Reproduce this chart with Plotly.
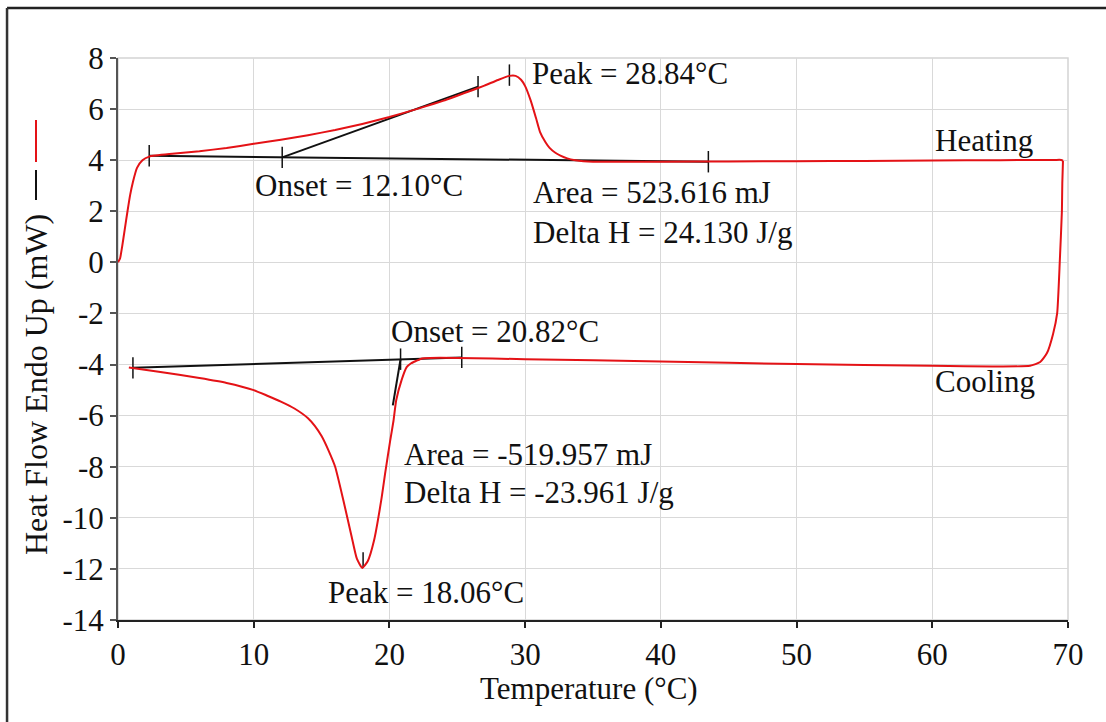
import plotly.graph_objects as go

# ---- data ----
heat_x = [0, 0.15, 0.3, 0.5, 0.7, 0.9, 1.1, 1.4, 1.8, 2.3, 4, 6, 8, 10, 12, 14, 16, 18, 20, 22, 24,
          26, 27, 28, 28.84, 29.3, 29.7, 30.0, 30.4, 30.8, 31.1, 31.5, 31.8, 32.2, 32.6, 33.1, 33.7,
          34.3, 35, 40, 45, 50, 55, 60, 65, 69.0, 69.5, 69.63]
heat_y = [0, 0.15, 0.6, 1.3, 2.0, 2.65, 3.15, 3.7, 4.0, 4.14, 4.25, 4.35, 4.48, 4.64, 4.8, 4.98,
          5.18, 5.42, 5.69, 6.0, 6.33, 6.72, 6.92, 7.14, 7.3, 7.3, 7.15, 6.9, 6.35, 5.65, 5.1, 4.7,
          4.48, 4.3, 4.18, 4.07, 4.0, 3.96, 3.94, 3.94, 3.95, 3.96, 3.97, 3.99, 4.0, 4.01, 4.01, 3.98]

cool_x = [69.63, 69.58, 69.55, 69.4, 69.2, 68.9, 68.45, 67.95, 67.2, 60, 50, 40, 30, 25, 23, 22.4,
          22.0, 21.6, 21.27, 20.9, 20.5, 20.3, 20.05, 19.7, 19.4, 18.86, 18.4, 18.0, 17.6, 17.2,
          16.6, 16.0, 15.5, 15.0, 14.5, 14.0, 13.0, 12.0, 11.0, 10.0, 8.0, 6.0, 3.0, 0.8]
cool_y = [3.98, 3.1, 2.0, 0.1, -2.0, -2.8, -3.55, -3.9, -4.05, -4.05, -3.98, -3.88, -3.79, -3.74,
          -3.74, -3.76, -3.85, -3.95, -4.1, -4.6, -5.4, -6.2, -7.0, -8.2, -9.3, -10.9, -11.7,
          -11.96, -11.6, -10.7, -9.3, -8.0, -7.35, -6.8, -6.4, -6.1, -5.72, -5.45, -5.22, -5.0,
          -4.72, -4.53, -4.28, -4.12]

# integration baselines / tangents
heat_base_x = [2.3, 43.5]
heat_base_y = [4.17, 3.94]
heat_tan_x = [12.1, 26.53]
heat_tan_y = [4.11, 6.88]
cool_base_x = [1.1, 25.33]
cool_base_y = [-4.13, -3.72]
cool_tan_x = [20.82, 20.25]
cool_tan_y = [-3.79, -5.6]

# marker ticks (x, y centre)
tick_x = [2.3, 12.1, 26.53, 28.84, 43.5, 1.1, 20.82, 25.33]
tick_y = [4.17, 4.11, 6.88, 7.33, 3.94, -4.13, -3.79, -3.72]
peak_cool_x = 18.06
peak_cool_y = [-11.96, -11.35]

labels = [
    ("Peak = 28.84°C", 30.36, 7.41),
    ("Onset = 12.10°C", 9.95, 2.99),
    ("Area = 523.616 mJ", 30.43, 2.72),
    ("Delta H = 24.130 J/g", 30.43, 1.15),
    ("Heating", 60.05, 4.79),
    ("Cooling", 60.05, -4.68),
    ("Onset = 20.82°C", 19.97, -2.69),
    ("Area = -519.957 mJ", 20.93, -7.54),
    ("Delta H = -23.961 J/g", 20.93, -8.99),
    ("Peak = 18.06°C", 15.33, -12.94),
]

x_ticks = [0, 10, 20, 30, 40, 50, 60, 70]
y_ticks = [8, 6, 4, 2, 0, -2, -4, -6, -8, -10, -12, -14]

RED = "rgb(228,18,22)"
BLK = "#111111"
FONT = "Liberation Serif, Times New Roman, serif"

fig = go.Figure()

def bl(x, y):
    fig.add_trace(go.Scatter(x=x, y=y, mode="lines", line=dict(color=BLK, width=2),
                             hoverinfo="skip", showlegend=False))

bl(heat_base_x, heat_base_y)
bl(heat_tan_x, heat_tan_y)
bl(cool_base_x, cool_base_y)
bl(cool_tan_x, cool_tan_y)

# ticks as segments
tx, ty = [], []
for x, y in zip(tick_x, tick_y):
    tx += [x, x, None]
    ty += [y - 0.42, y + 0.42, None]
tx += [peak_cool_x, peak_cool_x, None]
ty += [peak_cool_y[0], peak_cool_y[1], None]
fig.add_trace(go.Scatter(x=tx, y=ty, mode="lines", line=dict(color=BLK, width=1.5),
                         hoverinfo="skip", showlegend=False))

fig.add_trace(go.Scatter(x=heat_x, y=heat_y, mode="lines",
                         line=dict(color=RED, width=2, shape="spline", smoothing=0.5),
                         hoverinfo="skip", showlegend=False))
fig.add_trace(go.Scatter(x=cool_x, y=cool_y, mode="lines",
                         line=dict(color=RED, width=2, shape="spline", smoothing=0.5),
                         hoverinfo="skip", showlegend=False))

for t, x, y in labels:
    fig.add_annotation(x=x, y=y, text=t, showarrow=False, xanchor="left", yanchor="middle",
                       font=dict(family=FONT, size=31, color=BLK))

# axis titles
fig.add_annotation(xref="paper", yref="paper", x=0.4958, y=-0.121, text="Temperature (°C)",
                   showarrow=False, xanchor="center", yanchor="middle",
                   font=dict(family=FONT, size=31, color=BLK))
fig.add_annotation(xref="paper", yref="paper", x=-0.0863, y=0.418, text="Heat Flow Endo Up (mW)",
                   showarrow=False, textangle=-90, xanchor="center", yanchor="middle",
                   font=dict(family=FONT, size=32, color=BLK))

# legend marks next to y-axis title
fig.add_shape(type="line", xref="paper", yref="paper", x0=-0.0863, x1=-0.0863, y0=0.8149, y1=0.8897,
              line=dict(color=RED, width=2))
fig.add_shape(type="line", xref="paper", yref="paper", x0=-0.0863, x1=-0.0863, y0=0.7473, y1=0.8007,
              line=dict(color=BLK, width=2))

# outer frame (top and left edges)
fig.add_shape(type="line", xref="paper", yref="paper", x0=-0.1168, x1=1.05, y0=1.089, y1=1.089,
              line=dict(color="#222", width=2.5))
fig.add_shape(type="line", xref="paper", yref="paper", x0=-0.1168, x1=-0.1168, y0=1.089, y1=-0.2,
              line=dict(color="#333", width=2.5))
# light frame right/top of plot area
fig.add_shape(type="rect", xref="paper", yref="paper", x0=0, x1=1, y0=0, y1=1,
              line=dict(color="#d4d4d4", width=1.5), layer="below")

fig.update_layout(
    width=1106, height=722,
    margin=dict(l=118, r=38, t=58, b=102),
    paper_bgcolor="white", plot_bgcolor="white",
    hovermode=False,
    showlegend=False,
    xaxis=dict(range=[0, 70], tickvals=x_ticks, ticktext=[str(v) for v in x_ticks],
               showgrid=True, gridcolor="#d9d9d9", gridwidth=1, zeroline=False,
               showline=True, linecolor="#222", linewidth=2, ticks="outside", ticklen=6,
               tickcolor="#222", tickwidth=1.5,
               tickfont=dict(family=FONT, size=31, color=BLK)),
    yaxis=dict(range=[-14, 8], tickvals=y_ticks, ticktext=[str(v) for v in y_ticks],
               showgrid=True, gridcolor="#d9d9d9", gridwidth=1, zeroline=False,
               showline=True, linecolor="#555", linewidth=2, ticks="outside", ticklen=6,
               tickcolor="#555", tickwidth=1.5,
               tickfont=dict(family=FONT, size=31, color=BLK)),
)

fig.write_html("out.html", config={"displayModeBar": False},
               post_script="document.body.style.margin='0';document.body.style.overflow='hidden';")
